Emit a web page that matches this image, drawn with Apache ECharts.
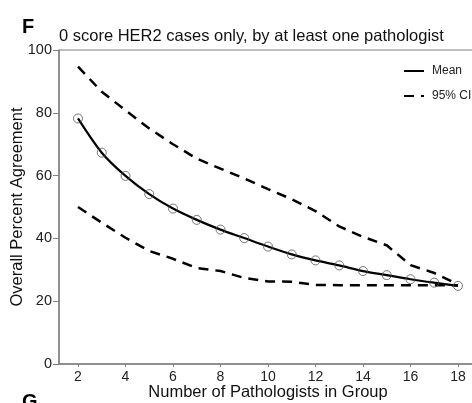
<!DOCTYPE html>
<html>
<head>
<meta charset="utf-8">
<script src="https://cdn.jsdelivr.net/npm/echarts@6/dist/echarts.min.js"></script>
<style>html,body{margin:0;padding:0;background:#fff}#c{width:472px;height:403px}</style>
</head>
<body>
<div id="c"></div>
<script>
const groupSizes = [2,3,4,5,6,7,8,9,10,11,12,13,14,15,16,17,18];
const meanValues = [78.2,67.3,59.9,54.1,49.5,45.9,42.8,40.1,37.4,34.9,33.0,31.4,29.6,28.3,27.0,25.9,24.9];
const upperCI   = [94.7,86.7,80.8,75.0,70.0,65.4,62.2,59.1,55.7,52.5,48.7,43.8,40.5,37.8,31.5,29.0,25.3];
const lowerCI   = [50.0,45.0,40.2,36.0,33.5,30.6,29.6,27.4,26.3,26.2,25.2,25.1,25.1,25.1,25.1,25.1,25.1];
const xTicks = [2,4,6,8,10,12,14,16,18];
const yTicks = [0,20,40,60,80,100];

const pair = (vals) => groupSizes.map((x, i) => [x, vals[i]]);
const font = '"Liberation Sans", Arial, sans-serif';
const axisGray = '#808080';

const chart = echarts.init(document.getElementById('c'), null, {renderer: 'canvas'});
chart.setOption({
  animation: false,
  backgroundColor: '#ffffff',
  title: {
    text: '0 score HER2 cases only, by at least one pathologist',
    left: 59, top: 28, padding: 0,
    textStyle: {fontFamily: font, fontSize: 16.5, fontWeight: 'normal', color: '#111'}
  },
  graphic: [
    {type: 'text', left: 22, top: 17, style: {text: 'F', fontFamily: font, fontSize: 20, fontWeight: 'bold', fill: '#000'}},
    {type: 'text', left: 22, top: 392, style: {text: 'G', fontFamily: font, fontSize: 20, fontWeight: 'bold', fill: '#000'}}
  ],
  legend: {
    orient: 'vertical',
    left: 403, top: 65, padding: 0,
    itemWidth: 20, itemHeight: 10, itemGap: 13,
    data: ['Mean', '95% CI'],
    itemStyle: {opacity: 0},
    textStyle: {fontFamily: font, fontSize: 12, color: '#222', padding: [0, 0, 0, 3]}
  },
  grid: {left: 59, right: -5, top: 50, bottom: 39, show: true, borderColor: axisGray, borderWidth: 1, outerBoundsMode: 'none', containLabel: false},
  xAxis: {
    type: 'value', min: 1.2, max: 18.8,
    name: 'Number of Pathologists in Group', nameLocation: 'middle', nameGap: 20, nameMoveOverlap: false,
    nameTextStyle: {fontFamily: font, fontSize: 16.5, color: '#111'},
    axisLine: {lineStyle: {color: axisGray, width: 1.5}},
    axisTick: {show: true, length: 3, lineStyle: {color: axisGray}, customValues: xTicks},
    axisLabel: {customValues: xTicks, fontFamily: font, fontSize: 14, color: '#222', margin: 6},
    splitLine: {show: false}
  },
  yAxis: {
    type: 'value', min: 0, max: 100, interval: 20,
    name: 'Overall Percent Agreement', nameLocation: 'middle', nameGap: 33, nameMoveOverlap: false,
    nameTextStyle: {fontFamily: font, fontSize: 16.5, color: '#111'},
    axisLine: {show: true, lineStyle: {color: axisGray, width: 1.5}},
    axisTick: {show: true, length: 6, lineStyle: {color: axisGray}},
    axisLabel: {customValues: yTicks, fontFamily: font, fontSize: 14.5, color: '#222', margin: 7},
    splitLine: {show: false}
  },
  series: [
    {
      name: 'Mean', type: 'line', data: pair(meanValues), symbol: 'none', smooth: 0.3,
      lineStyle: {color: '#000', width: 2.2}, itemStyle: {color: '#000'}, z: 3
    },
    {
      name: 'meanPoints', type: 'scatter', data: pair(meanValues), symbol: 'circle', symbolSize: 9,
      itemStyle: {color: 'rgba(255,255,255,0)', borderColor: '#555', borderWidth: 1}, z: 4
    },
    {
      name: '95% CI', type: 'line', data: pair(upperCI), symbol: 'none',
      lineStyle: {color: '#000', width: 2.5, type: [10, 7]}, itemStyle: {color: '#000'}, z: 2
    },
    {
      name: 'lowerCI', type: 'line', data: pair(lowerCI), symbol: 'none',
      lineStyle: {color: '#000', width: 2.5, type: [10, 7]}, itemStyle: {color: '#000'}, z: 2
    }
  ]
});
</script>
</body>
</html>
